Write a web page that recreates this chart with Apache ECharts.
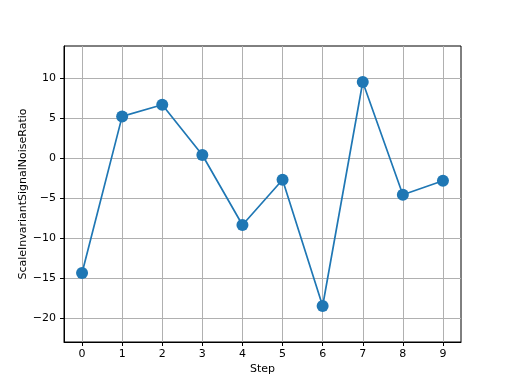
<!DOCTYPE html>
<html>
<head>
<meta charset="utf-8">
<script src="https://cdn.jsdelivr.net/npm/echarts@6/dist/echarts.min.js"></script>
<style>html,body{margin:0;padding:0;background:#fff}#c{width:512px;height:384px}</style>
</head>
<body>
<div id="c"></div>
<script>
const steps = [0, 1, 2, 3, 4, 5, 6, 7, 8, 9];
const ratio = [-14.38, 5.2, 6.65, 0.37, -8.38, -2.72, -18.5, 9.5, -4.6, -2.85];
const xTicks = [0, 1, 2, 3, 4, 5, 6, 7, 8, 9];
const yTicks = [-20, -15, -10, -5, 0, 5, 10];

const font = 'DejaVu Sans';
const chart = echarts.init(document.getElementById('c'), null, {renderer: 'canvas'});
chart.setOption({
  animation: false,
  backgroundColor: '#fff',
  grid: {left: 64, right: 51, top: 46, bottom: 42, show: true, borderColor: '#000', borderWidth: 1, backgroundColor: 'transparent'},
  xAxis: {
    type: 'value', min: -0.45, max: 9.45,
    name: 'Step', nameLocation: 'middle', nameGap: 22, nameMoveOverlap: false,
    nameTextStyle: {fontFamily: font, fontSize: 11, color: '#000'},
    axisLine: {show: true, onZero: false, lineStyle: {color: '#000', width: 1}},
    axisTick: {show: true, length: 4, customValues: xTicks, lineStyle: {color: '#000'}},
    axisLabel: {customValues: xTicks, fontFamily: font, fontSize: 11, color: '#000', margin: 7},
    splitLine: {show: true, lineStyle: {color: '#b0b0b0', width: 1}}
  },
  yAxis: {
    type: 'value', min: -23, max: 14,
    name: 'ScaleInvariantSignalNoiseRatio', nameLocation: 'middle', nameGap: 35, nameMoveOverlap: false,
    nameTextStyle: {fontFamily: font, fontSize: 11, color: '#000'},
    axisLine: {show: true, onZero: false, lineStyle: {color: '#000', width: 1}},
    axisTick: {show: true, length: 4, customValues: yTicks, lineStyle: {color: '#000'}},
    axisLabel: {customValues: yTicks, fontFamily: font, fontSize: 11, color: '#000', margin: 8,
      formatter: v => (v < 0 ? '\u2212' + Math.abs(v) : String(v))},
    splitLine: {show: true, lineStyle: {color: '#b0b0b0', width: 1}}
  },
  series: [{
    type: 'line',
    data: steps.map((s, i) => [s, ratio[i]]),
    symbol: 'circle', symbolSize: 12,
    lineStyle: {color: '#1f77b4', width: 1.7},
    itemStyle: {color: '#1f77b4'}
  }]
});
</script>
</body>
</html>
